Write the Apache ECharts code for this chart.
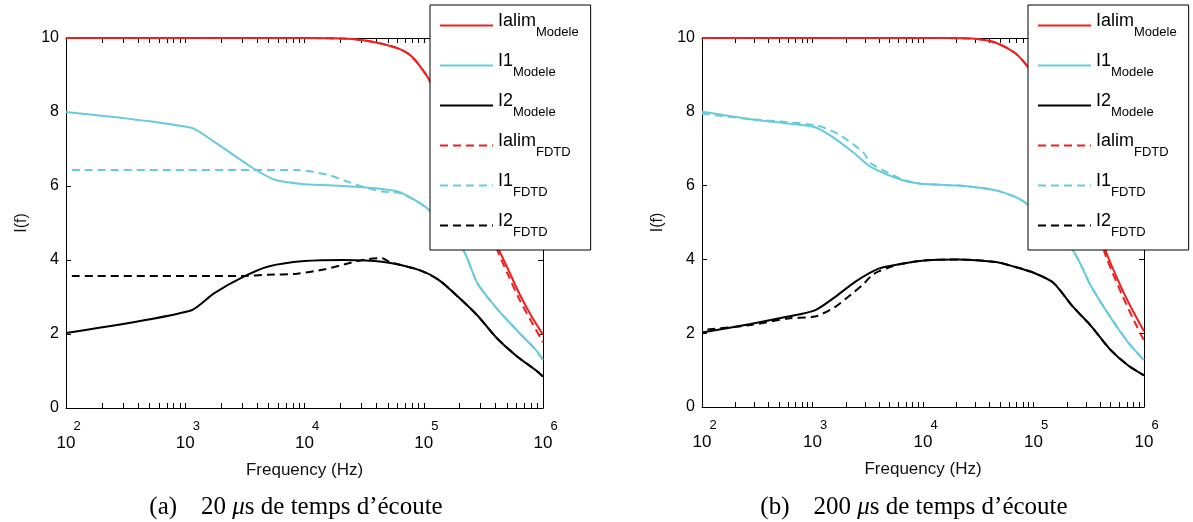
<!DOCTYPE html>
<html><head><meta charset="utf-8">
<script src="https://cdn.jsdelivr.net/npm/echarts@6/dist/echarts.min.js"></script>
<style>html,body{margin:0;padding:0;background:#fff}#c{width:1193px;height:522px}</style>
</head><body><div id="c"></div>
<script>
// ---------- DATA (frequency in Hz, current I(f)) ----------
const yTicks = [0, 2, 4, 6, 8, 10];
const seriesNames = ['Ialim_Modele', 'I1_Modele', 'I2_Modele', 'Ialim_FDTD', 'I1_FDTD', 'I2_FDTD'];
const captionA = ['(a)', '20 ', 'μ', 's de temps d\u2019écoute'];
const captionB = ['(b)', '200 ', 'μ', 's de temps d\u2019écoute'];

// Panel (a): 20 µs
const ialimA_f = [100, 10000, 25100, 39800, 63100, 79400, 100000, 112000, 158000, 251000, 398000, 501000, 631000, 794000, 1000000];
const ialimA_v = [10, 10, 9.97, 9.88, 9.7, 9.5, 9.1, 8.85, 7.8, 6.2, 4.5, 3.8, 3.1, 2.5, 1.98];
const ialimFA_f = [100, 10000, 25100, 39800, 63100, 79400, 100000, 112000, 158000, 251000, 398000, 501000, 631000, 794000, 1000000];
const ialimFA_v = [10, 10, 9.97, 9.88, 9.7, 9.5, 9.1, 8.85, 7.8, 6.15, 4.4, 3.65, 2.95, 2.35, 1.78];
const i1A_f = [100, 1100, 1740, 3630, 5620, 10000, 21400, 44700, 64600, 112000, 214000, 282000, 407000, 603000, 871000, 1000000];
const i1A_v = [8.0, 7.58, 7.2, 6.5, 6.17, 6.05, 6.0, 5.92, 5.82, 5.34, 4.27, 3.37, 2.7, 2.1, 1.57, 1.3];
const i1FA_f = [112, 8710, 15800, 21400, 33100, 44700, 64600, 112000, 214000, 282000, 407000, 603000, 871000, 1000000];
const i1FA_v = [6.43, 6.43, 6.3, 6.15, 5.95, 5.85, 5.8, 5.34, 4.27, 3.37, 2.7, 2.1, 1.57, 1.3];
const i2A_f = [100, 1100, 1740, 3090, 4900, 10000, 21400, 44700, 93300, 135000, 195000, 282000, 407000, 603000, 871000, 1000000];
const i2A_v = [2.03, 2.63, 3.1, 3.55, 3.82, 3.97, 4.0, 3.95, 3.72, 3.45, 3.0, 2.5, 1.9, 1.4, 1.02, 0.85];
const i2FA_f = [112, 3090, 4900, 8710, 14800, 21400, 33100, 44700, 51300, 93300, 135000, 195000, 282000, 407000, 603000, 871000, 1000000];
const i2FA_v = [3.57, 3.57, 3.6, 3.63, 3.75, 3.88, 4.02, 4.05, 3.95, 3.72, 3.45, 3.0, 2.5, 1.9, 1.4, 1.02, 0.85];

// Panel (b): 200 µs
const ialimB_f = [100, 16600, 30900, 45700, 67600, 87100, 112000, 158000, 251000, 457000, 631000, 794000, 1000000];
const ialimB_v = [10, 10, 9.97, 9.87, 9.6, 9.25, 8.75, 7.85, 6.4, 4.18, 3.2, 2.6, 2.05];
const ialimFB_f = [100, 16600, 30900, 45700, 67600, 87100, 112000, 158000, 251000, 457000, 631000, 794000, 1000000];
const ialimFB_v = [10, 10, 9.97, 9.87, 9.6, 9.25, 8.75, 7.85, 6.35, 4.05, 3.05, 2.4, 1.8];
const i1B_f = [100, 275, 600, 1050, 1550, 2450, 3390, 6460, 9550, 20900, 30900, 45700, 67600, 87100, 224000, 331000, 490000, 724000, 1000000];
const i1B_v = [8.0, 7.8, 7.68, 7.58, 7.3, 6.85, 6.5, 6.15, 6.05, 6.0, 5.95, 5.87, 5.7, 5.5, 4.27, 3.28, 2.46, 1.74, 1.27];
const i1FB_f = [100, 275, 600, 1050, 1320, 1820, 2880, 3390, 6460, 9550, 20900, 30900, 45700, 67600, 87100, 224000, 331000, 490000, 724000, 1000000];
const i1FB_v = [7.95, 7.8, 7.72, 7.64, 7.55, 7.35, 6.9, 6.6, 6.17, 6.05, 6.0, 5.95, 5.87, 5.7, 5.5, 4.27, 3.28, 2.46, 1.74, 1.27];
const i2B_f = [100, 275, 600, 1050, 1550, 2450, 3980, 6460, 10200, 20900, 45700, 67600, 100000, 151000, 224000, 331000, 490000, 724000, 1000000];
const i2B_v = [2.02, 2.25, 2.45, 2.62, 2.95, 3.4, 3.75, 3.88, 3.97, 4.0, 3.93, 3.8, 3.64, 3.37, 2.74, 2.2, 1.57, 1.12, 0.86];
const i2FB_f = [112, 275, 600, 1050, 1580, 2240, 2820, 3550, 4900, 6460, 10200, 20900, 45700, 67600, 100000, 151000, 224000, 331000, 490000, 724000, 1000000];
const i2FB_v = [2.1, 2.22, 2.4, 2.45, 2.7, 3.05, 3.3, 3.6, 3.78, 3.88, 3.97, 4.0, 3.93, 3.8, 3.64, 3.37, 2.74, 2.2, 1.57, 1.12, 0.86];

// ---------- BUILD ----------
const RED = '#f01e1e', CYAN = '#68cbdc', BLACK = '#000000';
const SANS = '"Liberation Sans", Arial, Helvetica, sans-serif';
const SERIF = '"Liberation Serif", "Times New Roman", serif';

const minorTickValues = [];
for (let e = 2; e < 6; e++) {
  for (let m = 1; m < 10; m++) minorTickValues.push(m * Math.pow(10, e));
}
minorTickValues.push(1e6);

function pairs(f, v) { return f.map((x, i) => [x, v[i]]); }

function xAxes(grid) {
  const base = {
    gridIndex: grid, type: 'log', logBase: 10, min: 100, max: 1e6,
    axisLine: { show: true, onZero: false, lineStyle: { color: '#000', width: 1 } },
    axisTick: { show: true, inside: true, length: 5, customValues: minorTickValues, lineStyle: { color: '#000', width: 1 } },
    splitLine: { show: false }, minorTick: { show: false }
  };
  return [
    Object.assign({}, base, {
      position: 'bottom',
      axisLabel: {
        show: true, margin: 10,
        formatter: v => '{e|' + Math.round(Math.log10(v)) + '}\n{b|10}',
        rich: {
          e: { fontFamily: SANS, fontSize: 13, color: '#000', padding: [0, 0, 0, 22], lineHeight: 16 },
          b: { fontFamily: SANS, fontSize: 17, color: '#000', lineHeight: 18 }
        }
      },
      name: 'Frequency (Hz)', nameLocation: 'middle', nameGap: 54,
      nameTextStyle: { fontFamily: SANS, fontSize: 17, color: '#111' }
    }),
    Object.assign({}, base, { position: 'top', axisLabel: { show: false } })
  ];
}

function yAxes(grid) {
  const base = {
    gridIndex: grid, type: 'value', min: 0, max: 10, interval: 2,
    axisLine: { show: true, lineStyle: { color: '#000', width: 1 } },
    axisTick: { show: true, inside: true, length: 5, lineStyle: { color: '#000', width: 1 } },
    splitLine: { show: false }
  };
  return [
    Object.assign({}, base, {
      position: 'left',
      axisLabel: { show: true, margin: 7, fontFamily: SANS, fontSize: 16, color: '#000',
        customValues: yTicks },
      name: 'I(f)', nameLocation: 'middle', nameGap: 36, nameRotate: 90,
      nameTextStyle: { fontFamily: SANS, fontSize: 16, color: '#111' }
    }),
    Object.assign({}, base, { position: 'right', axisLabel: { show: false } })
  ];
}

const panels = [
  [ialimA_f, ialimA_v, i1A_f, i1A_v, i2A_f, i2A_v, ialimFA_f, ialimFA_v, i1FA_f, i1FA_v, i2FA_f, i2FA_v],
  [ialimB_f, ialimB_v, i1B_f, i1B_v, i2B_f, i2B_v, ialimFB_f, ialimFB_v, i1FB_f, i1FB_v, i2FB_f, i2FB_v]
];
const colors = [RED, CYAN, BLACK, RED, CYAN, BLACK];
const series = [];
panels.forEach((arr, p) => {
  for (let k = 0; k < 6; k++) {
    series.push({
      type: 'line', name: seriesNames[k],
      xAxisIndex: p * 2, yAxisIndex: p * 2,
      data: pairs(arr[2 * k], arr[2 * k + 1]),
      symbol: 'none', showSymbol: false, smooth: 0.25, clip: true,
      lineStyle: { color: colors[k], width: 2, type: k < 3 ? 'solid' : [8, 5] },
      itemStyle: { color: colors[k] },
      z: 2 + k
    });
  }
});

function legend(left) {
  return {
    left: left, top: 5, orient: 'vertical', z: 20,
    itemWidth: 53, itemHeight: 14, itemGap: 13,
    padding: [7, 12, 11, 9],
    backgroundColor: '#fff', borderColor: '#000', borderWidth: 1, borderRadius: 0,
    selectedMode: false,
    itemStyle: { color: 'rgba(0,0,0,0)', borderWidth: 0, opacity: 0 },
    data: seriesNames,
    formatter: n => { const s = n.split('_'); return '{b|' + s[0] + '}{s|' + s[1] + '}'; },
    textStyle: {
      rich: {
        b: { fontFamily: SANS, fontSize: 18, color: '#000', lineHeight: 22, verticalAlign: 'top' },
        s: { fontFamily: SANS, fontSize: 13, color: '#000', padding: [14, 0, 0, 0] }
      }
    }
  };
}

function caption(parts, x) {
  return {
    type: 'text', x: x, y: 507, z: 30,
    style: {
      text: '{p|' + parts[0] + '}{t|' + parts[1] + '}{i|' + parts[2] + '}{t|' + parts[3] + '}',
      align: 'center', verticalAlign: 'middle',
      rich: {
        p: { fontFamily: SERIF, fontSize: 25, fill: '#000', padding: [0, 24, 0, 0] },
        t: { fontFamily: SERIF, fontSize: 25, fill: '#000' },
        i: { fontFamily: SERIF, fontSize: 25, fontStyle: 'italic', fill: '#000' }
      }
    }
  };
}

const chart = echarts.init(document.getElementById('c'), null, { renderer: 'canvas' });
chart.setOption({
  animation: false,
  backgroundColor: '#fff',
  grid: [
    { left: 66, top: 38, width: 477, height: 370, containLabel: false },
    { left: 702, top: 38, width: 442, height: 369, containLabel: false }
  ],
  xAxis: xAxes(0).concat(xAxes(1)),
  yAxis: yAxes(0).concat(yAxes(1)),
  legend: [legend(430), legend(1028)],
  series: series,
  graphic: [caption(captionA, 296), caption(captionB, 914)]
});
</script>
</body></html>
